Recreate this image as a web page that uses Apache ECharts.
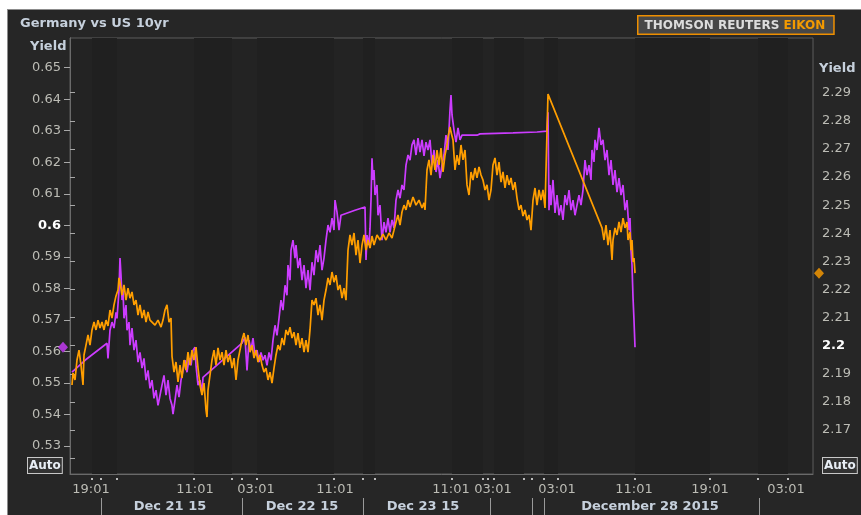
<!DOCTYPE html>
<html lang="en">
<head>
<meta charset="UTF-8">
<title>Germany vs US 10yr</title>
<script src="https://cdn.jsdelivr.net/npm/echarts@6.0.0/dist/echarts.min.js"></script>
<style>
    html, body { margin: 0; padding: 0; background: #fff; }
    #chart { width: 861px; height: 515px; }
</style>
</head>
<body>
<div id="chart"></div>
<script>
// x is the position along Eikon's compressed trading-time axis
const germanyT = [2, 15, 37, 38, 40, 42, 44, 46, 47, 49, 50, 51, 52, 53, 54, 56, 57, 59, 60, 62, 64, 66, 68, 70, 72, 74, 76, 78, 80, 82, 84, 86, 88, 90, 92, 94, 96, 98, 100, 102, 103, 105, 107, 109, 111, 113, 115, 117, 119, 121, 123, 125, 126, 128, 130, 132, 133,
    172, 175, 177, 179, 181, 183, 185, 187, 189, 191, 193, 195, 197, 199, 201, 203, 205, 207, 209, 211, 213, 215, 217, 218, 220, 221, 223, 225, 226, 228, 230, 232, 234, 236, 238, 240, 242, 244, 246, 248, 250, 252, 254, 256, 258, 260, 262, 264, 265, 267, 269, 271, 273,
    285, 295, 296, 297, 299, 300, 301, 302, 303, 304, 305, 307, 308, 310, 312, 314, 316, 318, 320, 322, 324, 326, 328, 330, 332, 334, 336, 338, 340, 342, 344, 346, 348, 350, 352, 354, 356, 358, 360, 362, 364, 366, 368, 370, 372, 374, 376, 378, 380, 381, 382, 384, 386, 388, 390,
    392, 407, 410, 443, 467, 477, 478, 479, 480, 481, 483, 485, 487, 489, 491, 493, 495, 497, 499, 501, 503, 505, 507, 509, 511, 513, 515, 517, 519, 521, 522, 524, 525, 527, 529, 531, 533, 535, 537, 539, 541, 543, 545, 547, 549, 551, 553, 555, 557, 559, 560, 561, 562, 563, 564, 565];
const germanyYield = [0.5534, 0.5572, 0.5626, 0.5578, 0.5667, 0.5693, 0.5674, 0.5724, 0.5705, 0.5794, 0.5896, 0.5842, 0.5763, 0.5794, 0.5705, 0.5747, 0.5667, 0.5693, 0.5620, 0.5674, 0.5604, 0.5636, 0.5566, 0.5597, 0.5547, 0.5578, 0.5509, 0.5540, 0.5483, 0.5509, 0.5451, 0.5477, 0.5429, 0.5461, 0.5493, 0.5524, 0.5461, 0.5509, 0.5451, 0.5429, 0.5401, 0.5445, 0.5493, 0.5455, 0.5509, 0.5540, 0.5572, 0.5534, 0.5578, 0.5556, 0.5604, 0.5613, 0.5556, 0.5493, 0.5509, 0.5467, 0.5518,
    0.5626, 0.5645, 0.5540, 0.5636, 0.5604, 0.5642, 0.5588, 0.5604, 0.5566, 0.5597, 0.5572, 0.5588, 0.5556, 0.5597, 0.5572, 0.5636, 0.5683, 0.5651, 0.5705, 0.5763, 0.5731, 0.5810, 0.5778, 0.5874, 0.5826, 0.5921, 0.5953, 0.5896, 0.5937, 0.5864, 0.5896, 0.5826, 0.5874, 0.5801, 0.5858, 0.5794, 0.5883, 0.5842, 0.5921, 0.5883, 0.5937, 0.5858, 0.5896, 0.5953, 0.6001, 0.5978, 0.6023, 0.5985, 0.6080, 0.6042, 0.5985, 0.6032, 0.6036,
    0.6048, 0.6058, 0.5890, 0.5969, 0.5937, 0.5991, 0.6080, 0.6213, 0.6144, 0.6175, 0.6096, 0.6128, 0.6032, 0.6064, 0.5953, 0.6010, 0.5978, 0.6023, 0.5978, 0.6017, 0.5991, 0.6080, 0.6112, 0.6086, 0.6128, 0.6112, 0.6191, 0.6223, 0.6207, 0.6255, 0.6271, 0.6223, 0.6277, 0.6232, 0.6271, 0.6220, 0.6264, 0.6239, 0.6271, 0.6191, 0.6239, 0.6169, 0.6207, 0.6150, 0.6191, 0.6223, 0.6286, 0.6239, 0.6366, 0.6413, 0.6350, 0.6302, 0.6264, 0.6309, 0.6271,
    0.6286, 0.6286, 0.6290, 0.6293, 0.6296, 0.6299, 0.6359, 0.6048, 0.6128, 0.6064, 0.6144, 0.6039, 0.6096, 0.6032, 0.6064, 0.6017, 0.6096, 0.6064, 0.6112, 0.6048, 0.6080, 0.6032, 0.6064, 0.6096, 0.6064, 0.6112, 0.6207, 0.6159, 0.6191, 0.6144, 0.6239, 0.6201, 0.6271, 0.6239, 0.6309, 0.6255, 0.6271, 0.6207, 0.6239, 0.6159, 0.6207, 0.6128, 0.6175, 0.6105, 0.6150, 0.6096, 0.6128, 0.6048, 0.6080, 0.5985, 0.6023, 0.5921, 0.5874, 0.5772, 0.5699, 0.5613];

const usT = [2, 3, 5, 7, 9, 11, 13, 14, 16, 18, 20, 22, 24, 26, 28, 30, 32, 34, 36, 38, 40, 42, 44, 46, 48, 49, 50, 52, 54, 56, 58, 60, 62, 64, 66, 68, 70, 72, 74, 76, 78, 80, 82, 85, 88, 91, 93, 95, 97, 99, 101,
    102, 104, 106, 108, 110, 112, 114, 116, 118, 120, 122, 124, 126, 128, 130, 132, 134, 136, 137, 138, 140, 142, 144, 146, 148, 150, 152, 154, 156, 158, 160, 162, 164, 166, 168, 170, 172, 174, 176, 178, 180, 182, 184, 186, 188, 190, 192, 194, 196, 198, 200, 202, 204, 206, 208,
    210, 212, 214, 216, 218, 220, 222, 224, 226, 228, 230, 232, 234, 236, 238, 240, 242, 244, 246, 248, 250, 252, 254, 256, 258, 260, 262, 264, 266, 268, 270, 272, 274, 276, 278, 280, 282, 284, 286, 288, 290, 292, 294, 296, 298, 300, 302, 304, 307, 310, 313, 316, 319, 322, 324,
    326, 328, 330, 332, 334, 336, 338, 340, 343, 346, 349, 352, 354, 355, 357, 359, 361, 363, 365, 367, 369, 371, 373, 375, 377, 378, 380, 381, 383, 385, 387, 389, 391, 393, 395, 397, 399, 401, 403, 405, 407, 409, 411, 413, 415, 417, 419, 421, 423, 425, 427, 429, 431, 433, 435,
    437, 439, 441, 443, 445, 447, 449, 451, 453, 455, 457, 459, 461, 463, 465, 467, 469, 471, 473, 475, 477, 478, 532, 534, 536, 538, 540, 542, 543, 545, 547, 549, 551, 553, 555, 557, 558, 560, 561, 562, 563, 564, 565];
const usYield = [2.1860, 2.1903, 2.1878, 2.1949, 2.1984, 2.1931, 2.1860, 2.1967, 2.2002, 2.2038, 2.2002, 2.2056, 2.2084, 2.2056, 2.2091, 2.2063, 2.2084, 2.2056, 2.2091, 2.2070, 2.2127, 2.2098, 2.2145, 2.2177, 2.2198, 2.2241, 2.2226, 2.2180, 2.2216, 2.2162, 2.2205, 2.2169, 2.2191, 2.2145, 2.2162, 2.2109, 2.2145, 2.2098, 2.2127, 2.2084, 2.2120, 2.2091, 2.2098, 2.2073, 2.2091, 2.2066, 2.2091, 2.2127, 2.2145, 2.2084, 2.2098,
    2.1963, 2.1906, 2.1942, 2.1871, 2.1931, 2.1885, 2.1949, 2.1913, 2.1977, 2.1931, 2.1984, 2.1949, 2.1995, 2.1920, 2.1860, 2.1824, 2.1867, 2.1771, 2.1746, 2.1842, 2.1895, 2.1949, 2.1984, 2.1931, 2.1992, 2.1949, 2.1977, 2.1931, 2.1984, 2.1942, 2.1967, 2.1920, 2.1956, 2.1878, 2.1949, 2.1984, 2.2020, 2.2045, 2.2002, 2.2038, 2.1977, 2.2002, 2.1956, 2.1984, 2.1942, 2.1967, 2.1931, 2.1906, 2.1920, 2.1878, 2.1906, 2.1867, 2.1920, 2.1967, 2.2002,
    2.1984, 2.2027, 2.2002, 2.2056, 2.2038, 2.2066, 2.2027, 2.2048, 2.2002, 2.2045, 2.1992, 2.2027, 2.1977, 2.2020, 2.1977, 2.2056, 2.2162, 2.2145, 2.2169, 2.2109, 2.2145, 2.2091, 2.2162, 2.2198, 2.2241, 2.2216, 2.2262, 2.2226, 2.2251, 2.2198, 2.2216, 2.2169, 2.2205, 2.2162, 2.2340, 2.2394, 2.2358, 2.2401, 2.2322, 2.2376, 2.2294, 2.2358, 2.2394, 2.2340, 2.2376, 2.2347, 2.2390, 2.2358, 2.2394, 2.2376, 2.2397, 2.2376, 2.2401, 2.2383, 2.2411,
    2.2440, 2.2465, 2.2429, 2.2476, 2.2500, 2.2483, 2.2518, 2.2493, 2.2529, 2.2500, 2.2518, 2.2490, 2.2508, 2.2483, 2.2625, 2.2661, 2.2607, 2.2678, 2.2625, 2.2696, 2.2643, 2.2703, 2.2618, 2.2678, 2.2714, 2.2742, 2.2778, 2.2760, 2.2732, 2.2625, 2.2678, 2.2643, 2.2714, 2.2661, 2.2696, 2.2572, 2.2536, 2.2618, 2.2589, 2.2632, 2.2597, 2.2636, 2.2607, 2.2589, 2.2554, 2.2572, 2.2518, 2.2554, 2.2643, 2.2668, 2.2607, 2.2653, 2.2582, 2.2618, 2.2561,
    2.2607, 2.2572, 2.2597, 2.2554, 2.2582, 2.2525, 2.2483, 2.2500, 2.2461, 2.2483, 2.2447, 2.2465, 2.2411, 2.2518, 2.2561, 2.2500, 2.2554, 2.2518, 2.2554, 2.2490, 2.2483, 2.2895, 2.2419, 2.2376, 2.2429, 2.2358, 2.2411, 2.2305, 2.2376, 2.2419, 2.2394, 2.2440, 2.2404, 2.2454, 2.2419, 2.2440, 2.2376, 2.2404, 2.2340, 2.2376, 2.2298, 2.2312, 2.2258];

const timeTickPos = [21, 125, 186, 265, 381, 423, 487, 564, 640, 716];
const timeTickLabels = ['19:01', '11:01', '03:01', '11:01', '11:01', '03:01', '03:01', '11:01', '19:01', '03:01'];
const sessionMarks = [22, 31, 47, 124, 162, 172, 187, 264, 293, 305, 382, 413, 418, 424, 454, 462, 474, 488, 565, 640, 688, 718];
const dayBreaks = [31, 172, 293, 420, 462, 474, 689];
const dayLabelPos = [100, 232, 353, 580];
const dayLabels = ['Dec 21 15', 'Dec 22 15', 'Dec 23 15', 'December 28 2015'];
const shadedBands = [[22, 47], [124, 162], [187, 264], [293, 305], [382, 413], [424, 454], [474, 488], [565, 640], [688, 718]];

const deTickLabels = ['0.53', '0.54', '0.55', '0.56', '0.57', '0.58', '0.59', '0.6', '0.61', '0.62', '0.63', '0.64', '0.65'];
const usTickLabels = ['2.17', '2.18', '2.19', '2.2', '2.21', '2.22', '2.23', '2.24', '2.25', '2.26', '2.27', '2.28', '2.29'];
const usExtraTick = 2.16;

const X_MAX = 743;
const font = 'DejaVu Sans';
const purple = '#cc3cff';
const orange = '#ff9e00';
const labelGray = '#bcbcb5';
const headGray = '#c6d0dc';

function zip(t, v) {
    return t.map(function (x, i) { return [x, v[i]]; });
}

function yFormatter(labels) {
    return function (value) {
        let s = labels.find(function (l) { return Math.abs(Number(l) - value) < 1e-6; }) || '';
        return s.length === 3 ? '{b|' + s + '}' : s;
    };
}

function autoBox(left) {
    return {
        type: 'text', left: left, top: 457, z: 11,
        style: {
            text: 'Auto', fill: '#e8eef5', font: 'bold 12px "DejaVu Sans"',
            backgroundColor: '#333333', borderColor: '#c8c8c8', borderWidth: 1,
            padding: [2, 1, 1, 1]
        }
    };
}

let dom = document.getElementById('chart');
let myChart = echarts.init(dom, null, {renderer: 'canvas'});

let option = {
    animation: false,
    backgroundColor: '#262626',
    textStyle: {fontFamily: font},
    grid: {
        left: 70, right: 48, top: 38, bottom: 41,
        show: true, backgroundColor: '#232323', borderColor: '#5c5c5c', borderWidth: 1
    },
    xAxis: [
        {
            type: 'value', min: 0, max: X_MAX, position: 'bottom',
            splitLine: {show: false},
            axisLine: {lineStyle: {color: '#6a6a6a'}},
            axisTick: {show: false},
            axisLabel: {
                customValues: timeTickPos, margin: 9, color: labelGray, fontSize: 13, fontFamily: font,
                formatter: function (v) { return timeTickLabels[timeTickPos.indexOf(v)] || ''; }
            }
        },
        {
            type: 'value', min: 0, max: X_MAX, position: 'bottom', offset: 4,
            splitLine: {show: false},
            axisLine: {show: false},
            axisTick: {customValues: sessionMarks, length: 2, lineStyle: {color: '#bdbdbd', width: 2}},
            axisLabel: {show: false}
        },
        {
            type: 'value', min: 0, max: X_MAX, position: 'bottom', offset: 24,
            splitLine: {show: false},
            axisLine: {show: false},
            axisTick: {customValues: dayBreaks, length: 18, lineStyle: {color: '#9a9a9a'}},
            axisLabel: {
                customValues: dayLabelPos, margin: 2, color: headGray, fontSize: 13, fontWeight: 'bold', fontFamily: font,
                formatter: function (v) { return dayLabels[dayLabelPos.indexOf(v)] || ''; }
            }
        }
    ],
    yAxis: [
        {
            type: 'value', position: 'left', min: 0.52112, max: 0.65942,
            splitLine: {show: false},
            axisLine: {show: true, lineStyle: {color: '#6a6a6a'}},
            axisTick: {show: true, customValues: deTickLabels.map(Number), length: 6, lineStyle: {color: '#a8a8a8'}},
            axisLabel: {
                customValues: deTickLabels.map(Number), margin: 9, color: labelGray, fontSize: 13, fontFamily: font,
                formatter: yFormatter(deTickLabels),
                rich: {b: {fontWeight: 'bold', color: '#ffffff', fontSize: 13, fontFamily: font}}
            }
        },
        {
            type: 'value', position: 'right', min: 2.15435, max: 2.30946,
            splitLine: {show: false},
            axisLine: {show: true, lineStyle: {color: '#6a6a6a'}},
            axisTick: {show: true, customValues: [usExtraTick].concat(usTickLabels.map(Number)), length: 5, lineStyle: {color: '#a8a8a8'}},
            axisLabel: {
                customValues: usTickLabels.map(Number), margin: 9, color: labelGray, fontSize: 13, fontFamily: font,
                formatter: yFormatter(usTickLabels),
                rich: {b: {fontWeight: 'bold', color: '#ffffff', fontSize: 13, fontFamily: font}}
            }
        }
    ],
    series: [
        {
            name: 'sessions', type: 'line', data: [], silent: true, z: 1,
            markArea: {
                silent: true,
                itemStyle: {color: '#202020'},
                data: shadedBands.map(function (b) { return [{xAxis: b[0]}, {xAxis: b[1]}]; })
            }
        },
        {
            name: 'Germany 10yr', type: 'line', xAxisIndex: 0, yAxisIndex: 0, z: 3,
            showSymbol: false, data: zip(germanyT, germanyYield),
            lineStyle: {color: purple, width: 1.7}
        },
        {
            name: 'US 10yr', type: 'line', xAxisIndex: 0, yAxisIndex: 1, z: 4,
            showSymbol: false, data: zip(usT, usYield),
            lineStyle: {color: orange, width: 1.7}
        },
        {
            name: 'de last', type: 'scatter', xAxisIndex: 0, yAxisIndex: 0, clip: false, z: 5,
            symbol: 'diamond', symbolSize: [10, 11],
            itemStyle: {color: purple},
            data: [[-7, germanyYield[germanyYield.length - 1]]]
        },
        {
            name: 'us last', type: 'scatter', xAxisIndex: 0, yAxisIndex: 1, clip: false, z: 5,
            symbol: 'diamond', symbolSize: [10, 11],
            itemStyle: {color: orange},
            data: [[X_MAX + 6, usYield[usYield.length - 1]]]
        }
    ],
    graphic: [
        {type: 'rect', shape: {x: 0, y: 0, width: 861, height: 9}, style: {fill: '#ffffff'}, silent: true},
        {type: 'rect', shape: {x: 0, y: 0, width: 7, height: 515}, style: {fill: '#ffffff'}, silent: true},
        {type: 'line', shape: {x1: 7, y1: 9.5, x2: 861, y2: 9.5}, style: {stroke: '#8c8c8c', lineWidth: 1}, silent: true},
        {type: 'line', shape: {x1: 7.5, y1: 9, x2: 7.5, y2: 515}, style: {stroke: '#8c8c8c', lineWidth: 1}, silent: true},
        {
            type: 'text', left: 20, top: 17,
            style: {text: 'Germany vs US 10yr', fill: headGray, font: 'bold 13px "DejaVu Sans"'}
        },
        {
            type: 'text', left: 30, top: 40,
            style: {text: 'Yield', fill: headGray, font: 'bold 13px "DejaVu Sans"'}
        },
        {
            type: 'text', left: 819, top: 62,
            style: {text: 'Yield', fill: headGray, font: 'bold 13px "DejaVu Sans"'}
        },
        {
            type: 'text', left: 637, top: 15, z: 11,
            style: {
                text: '{w|THOMSON REUTERS }{o|EIKON}',
                backgroundColor: '#474747', borderColor: '#ee8f00', borderWidth: 1.5,
                padding: [3, 8, 2, 6],
                rich: {
                    w: {fill: '#dcdcdc', font: 'bold 12px "DejaVu Sans"'},
                    o: {fill: '#f39a00', font: 'bold 12px "DejaVu Sans"'}
                }
            }
        },
        autoBox(27),
        autoBox(822)
    ]
};

myChart.setOption(option);
</script>
</body>
</html>
